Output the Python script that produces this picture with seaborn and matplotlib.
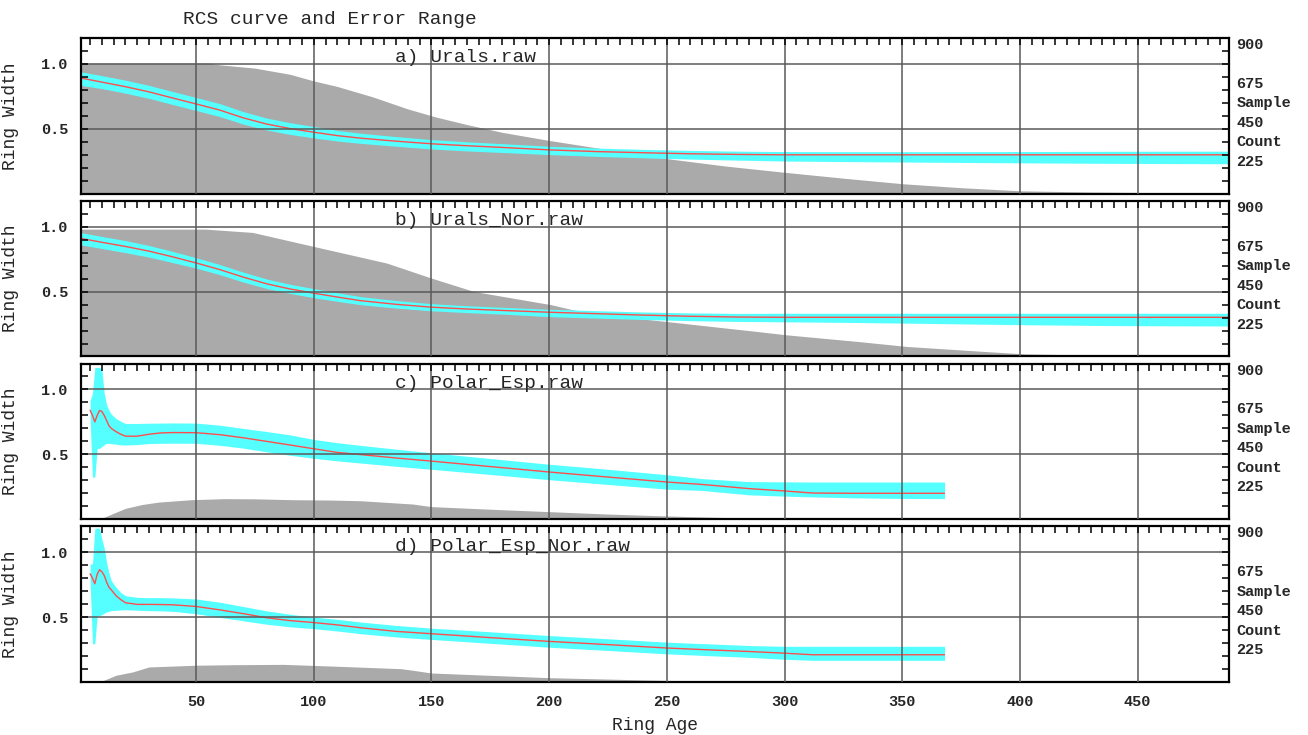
import matplotlib
matplotlib.use('Agg')
import matplotlib.pyplot as plt
from matplotlib.ticker import MultipleLocator, FixedLocator
import seaborn as sns

# ---- values ----
panel_names = ['a) Urals.raw', 'b) Urals_Nor.raw', 'c) Polar_Esp.raw', 'd) Polar_Esp_Nor.raw']

# Urals panels (a, b): ring age grid of the RCS curve
age_ab = [1, 10, 20, 30, 40, 50, 60, 70, 80, 90, 100, 110, 120, 135, 150, 165, 180, 200,
          220, 240, 260, 280, 300, 330, 360, 400, 440, 489]

rcs_a = [.892, .860, .825, .785, .738, .692, .645, .585, .537, .502, .474, .448, .428, .405,
         .385, .370, .357, .338, .325, .316, .308, .303, .300, .300, .300, .300, .300, .300]
upper_a = [.940, .910, .875, .835, .788, .742, .695, .633, .583, .547, .518, .488, .466, .440,
           .417, .400, .386, .366, .352, .342, .334, .328, .325, .324, .324, .325, .327, .328]
lower_a = [.835, .810, .775, .735, .688, .642, .595, .537, .491, .457, .430, .406, .388, .366,
           .345, .330, .318, .302, .288, .277, .267, .259, .252, .247, .243, .238, .234, .231]

rcs_b = [.910, .880, .848, .812, .768, .721, .670, .612, .560, .520, .488, .458, .430, .402,
         .380, .366, .355, .341, .330, .319, .310, .304, .302, .302, .302, .302, .302, .302]
upper_b = [.955, .925, .893, .855, .810, .761, .709, .650, .597, .556, .523, .491, .461, .431,
           .407, .391, .379, .364, .353, .343, .336, .332, .333, .333, .333, .333, .333, .333]
lower_b = [.860, .832, .800, .766, .724, .681, .631, .574, .524, .486, .453, .425, .399, .373,
           .352, .338, .327, .307, .296, .285, .276, .270, .267, .262, .255, .245, .238, .235]

# Polar panels (c, d)
age_cd = [5, 6, 7, 8, 9, 10, 11, 12, 13, 14, 16, 18, 20, 25, 30, 35, 40, 50, 60, 70, 80, 90,
          100, 110, 120, 135, 150, 175, 200, 225, 250, 265, 285, 300, 312, 330, 350, 368]

rcs_c = [.840, .800, .750, .800, .838, .830, .800, .760, .720, .700, .675, .655, .640, .640,
         .655, .665, .668, .667, .652, .628, .600, .572, .543, .515, .498, .472, .448, .406,
         .364, .325, .287, .268, .236, .218, .202, .200, .200, .200]
upper_c = [.915, .970, 1.17, 1.17, 1.17, 1.15, .970, .880, .840, .810, .776, .755, .738, .738,
           .740, .741, .742, .741, .725, .700, .676, .650, .615, .590, .569, .540, .512, .468,
           .424, .385, .343, .313, .290, .288, .287, .287, .287, .287]
lower_c = [.762, .325, .325, .546, .546, .560, .575, .585, .585, .582, .578, .573, .572, .575,
           .583, .585, .586, .585, .570, .548, .520, .493, .470, .450, .433, .408, .385, .345,
           .305, .268, .232, .222, .188, .178, .172, .165, .160, .159]

rcs_d = [.834, .800, .757, .830, .865, .850, .820, .770, .730, .710, .665, .635, .611, .598,
         .598, .597, .595, .582, .556, .527, .495, .473, .458, .440, .418, .390, .372, .342,
         .313, .288, .262, .250, .235, .222, .210, .210, .210, .210]
upper_d = [.910, .910, 1.185, 1.185, 1.185, 1.10, 1.03, .920, .840, .780, .730, .690, .665, .652,
           .650, .650, .648, .640, .615, .582, .548, .522, .500, .483, .462, .436, .415, .387,
           .358, .333, .307, .296, .281, .275, .275, .275, .275, .275]
lower_d = [.770, .295, .295, .510, .510, .520, .530, .540, .545, .550, .553, .555, .557, .553,
           .550, .548, .545, .526, .498, .472, .445, .425, .411, .393, .372, .347, .328, .298,
           .268, .243, .217, .205, .190, .175, .167, .167, .167, .167]

# sample counts (right axis)
cnt_age_a = [1, 55, 60, 75, 90, 100, 110, 125, 140, 152, 165, 180, 200, 225, 250, 275, 300,
             325, 350, 375, 400, 430, 460, 489]
cnt_a = [755, 755, 745, 726, 690, 652, 620, 560, 490, 443, 400, 355, 308, 255, 203, 160, 124,
         90, 58, 35, 17, 10, 6, 3]
cnt_age_b = [1, 54, 74, 100, 131, 150, 168, 201, 210, 239, 250, 288, 301, 331, 352, 385, 402,
             440, 489]
cnt_b = [736, 736, 717, 636, 540, 453, 376, 299, 270, 218, 202, 145, 125, 87, 58, 29, 15, 6, 3]
cnt_age_c = [9, 15, 20, 27, 34, 48, 62, 75, 91, 107, 120, 142, 150, 175, 200, 225, 250, 285,
             320, 350, 370]
cnt_c = [0, 35, 63, 85, 99, 113, 119, 118, 113, 111, 107, 88, 73, 58, 44, 30, 19, 6, 4, 2, 1]
cnt_age_d = [9, 16, 23, 30, 50, 66, 87, 108, 137, 142, 150, 200, 250, 300, 350, 370]
cnt_d = [0, 39, 58, 87, 97, 100, 102, 92, 77, 68, 52, 25, 9, 4, 2, 1]

right_ticks = [900, 675, 562.5, 450, 337.5, 225]
right_labels = ['900', '675', 'Sample', '450', 'Count', '225']

panels = [
    (age_ab, rcs_a, upper_a, lower_a, cnt_age_a, cnt_a),
    (age_ab, rcs_b, upper_b, lower_b, cnt_age_b, cnt_b),
    (age_cd, rcs_c, upper_c, lower_c, cnt_age_c, cnt_c),
    (age_cd, rcs_d, upper_d, lower_d, cnt_age_d, cnt_d),
]

sns.set_style('white')
plt.rcParams['font.family'] = ['Liberation Mono', 'DejaVu Sans Mono']

fig, axes = plt.subplots(4, 1, figsize=(13.08, 7.35), dpi=100, sharex=True)
fig.subplots_adjust(left=0.0617, right=0.9399, top=0.9483, bottom=0.0721, hspace=0.045)

for ax, name, (age, rcs, up, lo, c_age, cnt) in zip(axes, panel_names, panels):
    # sample count on the right axis, drawn underneath
    ax2 = ax.twinx()
    ax2.fill_between(c_age, 0, cnt, color='#aaaaaa', lw=0)
    ax2.set_ylim(0, 900)
    ax2.set_yticks(right_ticks)
    ax2.set_yticklabels(right_labels)
    ax2.tick_params(axis='y', length=0, pad=5, labelsize=11)
    for lab in ax2.get_yticklabels():
        lab.set_va('top')
        lab.set_fontweight('bold')
    for sp in ax2.spines.values():
        sp.set_visible(False)

    ax.set_zorder(ax2.get_zorder() + 1)
    ax.patch.set_visible(False)

    ax.fill_between(age, lo, up, color='#55ffff', lw=0)
    sns.lineplot(x=age, y=rcs, ax=ax, color='#ff4d4d', linewidth=1.0,
                 estimator=None, sort=False)

    ax.set_xlim(1, 489)
    ax.set_ylim(0, 1.2)
    ax.xaxis.set_major_locator(MultipleLocator(50))
    ax.xaxis.set_minor_locator(MultipleLocator(5))
    ax.yaxis.set_major_locator(FixedLocator([0.5, 1.0]))
    ax.yaxis.set_minor_locator(MultipleLocator(0.1))
    ax.yaxis.set_major_formatter(plt.FormatStrFormatter('%.1f'))
    ax.grid(True, which='major', color='#5a5a5a', lw=1.1)
    ax.set_axisbelow(False)
    ax.tick_params(which='both', direction='in', top=True, right=True,
                   length=5, width=1.1, color='black', labelsize=11, pad=9)
    for lab in ax.get_yticklabels() + ax.get_xticklabels():
        lab.set_fontweight('bold')
    for sp in ax.spines.values():
        sp.set_color('black')
        sp.set_linewidth(1.6)

    ax.set_ylabel('Ring Width', fontsize=13)
    ax.yaxis.set_label_coords(-0.054, 0.5)
    ax.text(0.274, 0.872, name, transform=ax.transAxes, fontsize=14,
            ha='left', va='center', zorder=6)

axes[-1].set_xlabel('Ring Age', fontsize=13, labelpad=6)
fig.text(0.14, 0.974, 'RCS curve and Error Range', fontsize=14, va='center', ha='left')

fig.savefig('out.png', dpi=100)
